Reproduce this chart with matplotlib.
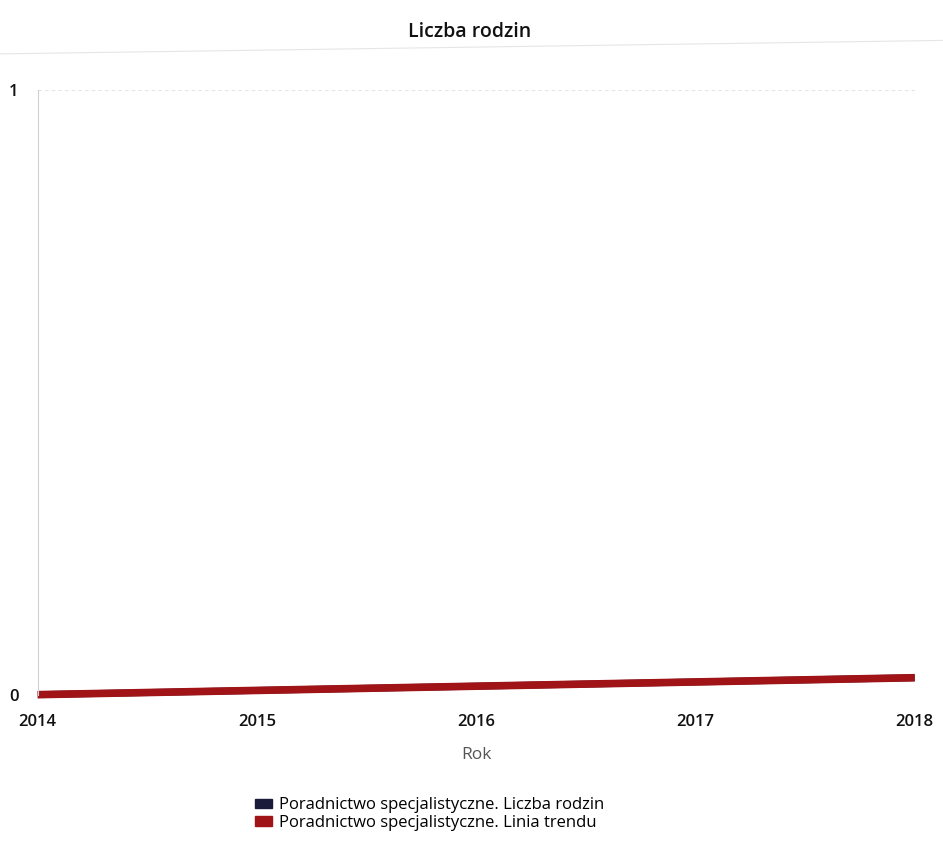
import matplotlib
matplotlib.use("Agg")
import matplotlib.pyplot as plt
from matplotlib.lines import Line2D
from matplotlib.patches import Rectangle

years = [2014, 2015, 2016, 2017, 2018]
# the scan is slightly tilted, so both (overlapping) lines appear to rise a little
liczba_rodzin = [0.0, 0.007, 0.014, 0.021, 0.028]
linia_trendu = [0.0, 0.007, 0.014, 0.021, 0.028]
y_ticks = [0, 1]
series_names = ["Poradnictwo specjalistyczne. Liczba rodzin",
                "Poradnictwo specjalistyczne. Linia trendu"]
series_colors = ["#1a1a3a", "#a01418"]

plt.rcParams['font.family'] = ['Open Sans', 'DejaVu Sans']

fig = plt.figure(figsize=(9.43, 8.42), dpi=100)
ax = fig.add_axes([0.040, 0.175, 0.930, 0.718])

ax.plot(years, liczba_rodzin, color=series_colors[0], linewidth=5, solid_capstyle='butt', clip_on=False)
ax.plot(years, linia_trendu, color=series_colors[1], linewidth=5.5, solid_capstyle='butt', clip_on=False)

ax.set_xlim(2014, 2018)
ax.set_ylim(0, 1)
ax.set_xticks(years)
ax.set_yticks(y_ticks)
ax.tick_params(axis='both', length=0, labelsize=12, colors='#111111')
ax.tick_params(axis='x', pad=14)
ax.tick_params(axis='y', pad=14)
for lbl in ax.get_xticklabels() + ax.get_yticklabels():
    lbl.set_fontweight('semibold')

for side in ['top', 'right', 'bottom']:
    ax.spines[side].set_visible(False)
ax.spines['left'].set_color('#d0d0d0')
ax.spines['left'].set_linewidth(0.8)
ax.axhline(1, color='#e4e4e4', linewidth=0.8, linestyle=(0, (3, 3)))

ax.set_xlabel("Rok", fontsize=12.5, color='#555555', labelpad=12)

fig.text(0.498, 0.962, "Liczba rodzin", ha='center', va='center', fontsize=14,
         color='#111111', fontweight='semibold')
fig.add_artist(Line2D([0.0, 1.0], [0.936, 0.952], color='#e6e6e6', linewidth=0.8))

handles = [Rectangle((0, 0), 1, 1, color=c) for c in series_colors]
fig.legend(handles, series_names, loc='center left', bbox_to_anchor=(0.262, 0.033),
           frameon=False, fontsize=12, handlelength=1.0, handleheight=0.5,
           handletextpad=0.4, labelspacing=0.1, borderpad=0)

fig.savefig("out.png", dpi=100, facecolor='white')
